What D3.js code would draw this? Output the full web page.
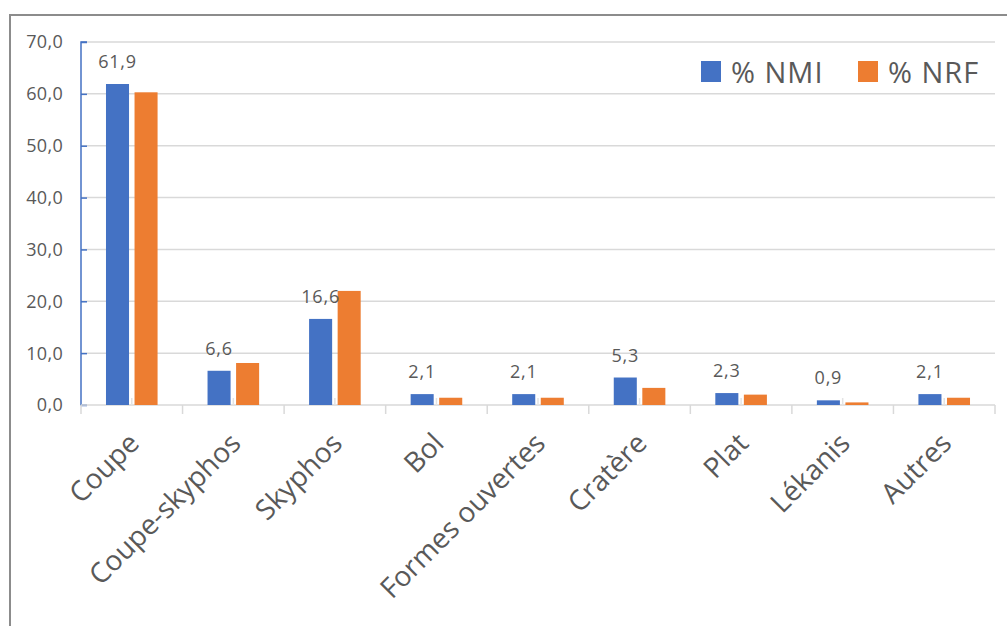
<!DOCTYPE html>
<html><head><meta charset="utf-8">
<script src="https://cdn.jsdelivr.net/npm/d3@7"></script>
<style>
html,body{margin:0;padding:0;background:#fff;}
svg{display:block;font-family:"Open Sans",sans-serif;}
</style></head>
<body><svg id="chart" width="1007" height="626"></svg>
<script>
const categories = ["Coupe","Coupe-skyphos","Skyphos","Bol","Formes ouvertes","Cratère","Plat","Lékanis","Autres"];
const seriesNames = ["% NMI","% NRF"];
const nmi = [61.9, 6.6, 16.6, 2.1, 2.1, 5.3, 2.3, 0.9, 2.1];
const nrf = [60.3, 8.1, 22.0, 1.4, 1.4, 3.3, 2.0, 0.5, 1.4];
const yTicks = [0,10,20,30,40,50,60,70];
const colors = ["#4472c4","#ed7d31"];

const svg = d3.select("#chart");
const fmt = v => d3.format(".1f")(v).replace(".", ",");

// outer frame
svg.append("path").attr("d","M10,640 L10,15 L1020,15").attr("fill","none")
  .attr("stroke","#8c8c8c").attr("stroke-width",2);

const x = d3.scaleBand().domain(categories).range([81,995]).padding(0);
const bw = x.bandwidth();
const x1 = d3.scaleBand().domain(seriesNames).range([bw*0.246, bw*0.754]).paddingInner(0.193);
const y = d3.scaleLinear().domain([0,70]).range([405,42]);

// gridlines
svg.append("g").selectAll("line").data(yTicks.filter(t=>t>0)).join("line")
  .attr("x1",81).attr("x2",995).attr("y1",d=>y(d)).attr("y2",d=>y(d))
  .attr("stroke","#d9d9d9").attr("stroke-width",1.5);

// y axis
const yAxis = svg.append("g").attr("transform","translate(81,0)")
  .call(d3.axisRight(y).tickValues(yTicks).tickSize(6).tickFormat(""));
yAxis.select(".domain").attr("stroke","#4472c4").attr("stroke-width",1.5).attr("d",`M6,${y(70)}H0V${y(0)}H6`);
yAxis.selectAll(".tick line").attr("stroke","#4472c4").attr("stroke-width",1.5);
svg.append("g").selectAll("text").data(yTicks).join("text")
  .attr("x",63).attr("y",d=>y(d)).attr("dy","0.36em").attr("text-anchor","end")
  .attr("font-size",18).attr("letter-spacing",0.3).attr("fill","#595959").text(d=>fmt(d));

// x axis
const xAxis = svg.append("g").attr("transform",`translate(0,${y(0)})`)
  .call(d3.axisBottom(x).tickSize(0).tickFormat(""));
xAxis.select(".domain").attr("stroke","#d9d9d9").attr("stroke-width",1.5).attr("d",`M81,0H995`);
const bounds = categories.map(c=>x(c)).concat([x(categories[categories.length-1])+bw]);
svg.append("g").selectAll("line").data(bounds).join("line")
  .attr("x1",d=>d).attr("x2",d=>d).attr("y1",y(0)).attr("y2",y(0)+9)
  .attr("stroke","#d9d9d9").attr("stroke-width",1.5);

// bars
const rows = categories.map((c,i)=>({cat:c, vals:[nmi[i], nrf[i]]}));
const groups = svg.append("g").selectAll("g").data(rows).join("g")
  .attr("transform",d=>`translate(${x(d.cat)},0)`);
groups.selectAll("rect").data(d=>d.vals.map((v,j)=>({s:seriesNames[j], v, j}))).join("rect")
  .attr("x",d=>x1(d.s)).attr("width",x1.bandwidth())
  .attr("y",d=>y(d.v)).attr("height",d=>y(0)-y(d.v)).attr("fill",d=>colors[d.j]);
// small separators between bars
groups.append("line")
  .attr("x1",x1(seriesNames[0])+x1.bandwidth()+x1.step()*0.193/2)
  .attr("x2",x1(seriesNames[0])+x1.bandwidth()+x1.step()*0.193/2)
  .attr("y1",y(0)-7).attr("y2",y(0)).attr("stroke","#e3e3e3").attr("stroke-width",1.5);

// data labels (NMI)
groups.append("text")
  .attr("x",x1(seriesNames[0])+x1.bandwidth()/2)
  .attr("y",d=>y(d.vals[0])-16)
  .attr("text-anchor","middle").attr("font-size",18).attr("letter-spacing",0.8).attr("fill","#595959")
  .text(d=>fmt(d.vals[0]));

// x labels
svg.append("g").selectAll("text").data(categories).join("text")
  .attr("transform",d=>`translate(${x(d)+bw/2+9},445) rotate(-45)`)
  .attr("text-anchor","end").attr("font-size",28).attr("fill","#595959").text(d=>d);

// legend
const legX = [701, 858];
const leg = svg.append("g").selectAll("g").data(seriesNames).join("g")
  .attr("transform",(d,i)=>`translate(${legX[i]},61)`);
leg.append("rect").attr("width",20).attr("height",21).attr("fill",(d,i)=>colors[i]);
leg.append("text").attr("x",30).attr("y",21.5).attr("font-size",29).attr("letter-spacing",1)
  .attr("fill","#595959").text(d=>d);
</script></body></html>
